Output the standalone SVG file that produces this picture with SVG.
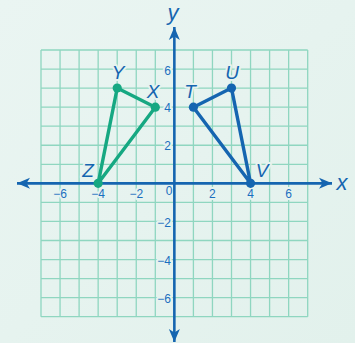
<svg xmlns="http://www.w3.org/2000/svg" width="355" height="343" viewBox="0 0 355 343">
<defs>
<linearGradient id="bg" x1="0" y1="0" x2="1" y2="1">
<stop offset="0" stop-color="#eaf5f2"/>
<stop offset="1" stop-color="#e2f1ec"/>
</linearGradient>
<marker id="ah" viewBox="-13 -6 14 12" refX="0" refY="0" markerWidth="14" markerHeight="12" markerUnits="userSpaceOnUse" orient="auto-start-reverse">
<path d="M0,0 L-13,-5.5 L-9.5,0 L-13,5.5 Z" fill="#1565b0"/>
</marker>
<style>
.grid{stroke:#8fd6c0;stroke-width:1.3;fill:none}
.axis{stroke:#1565b0;stroke-width:2.6;fill:none}
.tick{font-family:"Liberation Sans",Arial,sans-serif;font-size:12px;fill:#1b6fbf;stroke:#e6f3ef;stroke-width:4;paint-order:stroke;stroke-linejoin:round}
.lbl{font-family:"Liberation Sans",Arial,sans-serif;font-style:italic;font-size:19px;fill:#1565b0;text-anchor:middle;stroke:#e6f3ef;stroke-width:4;paint-order:stroke;stroke-linejoin:round}
.axl{font-family:"Liberation Sans",Arial,sans-serif;font-style:italic;font-size:22px;fill:#1565b0;text-anchor:middle}
.g{stroke:#16a882;stroke-width:3.4;fill:none;stroke-linejoin:round}
.b{stroke:#1565b0;stroke-width:3.4;fill:none;stroke-linejoin:round}
.gd{fill:#16a882}
.bd{fill:#1565b0}
</style>
</defs>
<rect width="355" height="343" fill="url(#bg)"/>
<g id="grid" class="grid">
<path d="M41,50V316.7 M60.05,50V316.7 M79.1,50V316.7 M98.15,50V316.7 M117.2,50V316.7 M136.25,50V316.7 M155.3,50V316.7 M193.4,50V316.7 M212.45,50V316.7 M231.5,50V316.7 M250.55,50V316.7 M269.6,50V316.7 M288.65,50V316.7 M307.7,50V316.7"/>
<path d="M41,50H307.7 M41,69.05H307.7 M41,88.1H307.7 M41,107.15H307.7 M41,126.2H307.7 M41,145.25H307.7 M41,164.3H307.7 M41,202.4H307.7 M41,221.45H307.7 M41,240.5H307.7 M41,259.55H307.7 M41,278.6H307.7 M41,297.65H307.7 M41,316.7H307.7"/>
</g>
<g id="ticks">
<text class="tick" x="60.05" y="197.5" text-anchor="middle">−6</text>
<text class="tick" x="98.15" y="197.5" text-anchor="middle">−4</text>
<text class="tick" x="136.25" y="197.5" text-anchor="middle">−2</text>
<text class="tick" x="212.45" y="197.5" text-anchor="middle">2</text>
<text class="tick" x="250.55" y="197.5" text-anchor="middle">4</text>
<text class="tick" x="288.65" y="197.5" text-anchor="middle">6</text>
<text class="tick" x="169" y="195" text-anchor="middle">0</text>
<text class="tick" x="171" y="75" text-anchor="end">6</text>
<text class="tick" x="171" y="111.5" text-anchor="end">4</text>
<text class="tick" x="171" y="149.5" text-anchor="end">2</text>
<text class="tick" x="171" y="226.5" text-anchor="end">−2</text>
<text class="tick" x="171" y="264.5" text-anchor="end">−4</text>
<text class="tick" x="171" y="302.5" text-anchor="end">−6</text>
</g>
<g id="axes">
<line class="axis" x1="17" y1="183.35" x2="332" y2="183.35" marker-start="url(#ah)" marker-end="url(#ah)"/>
<line class="axis" x1="174.35" y1="342" x2="174.35" y2="27" marker-start="url(#ah)" marker-end="url(#ah)"/>
<text class="axl" x="342" y="190">x</text>
<text class="axl" x="173" y="20">y</text>
</g>
<g id="connectors">
<polygon class="g" points="117.2,88.1 155.3,107.15 98.15,183.35"/>
<polygon class="b" points="193.4,107.15 231.5,88.1 250.55,183.35"/>
</g>
<g id="Y"><circle class="gd" cx="117.2" cy="88.1" r="4.6"/><text class="lbl" x="118" y="79">Y</text></g>
<g id="X"><circle class="gd" cx="155.3" cy="107.15" r="4.6"/><text class="lbl" x="153" y="98">X</text></g>
<g id="Z"><circle class="gd" cx="98.15" cy="183.35" r="4.6"/><text class="lbl" x="88" y="177">Z</text></g>
<g id="T"><circle class="bd" cx="193.4" cy="107.15" r="4.6"/><text class="lbl" x="190" y="98">T</text></g>
<g id="U"><circle class="bd" cx="231.5" cy="88.1" r="4.6"/><text class="lbl" x="232" y="79">U</text></g>
<g id="V"><circle class="bd" cx="250.55" cy="183.35" r="4.6"/><text class="lbl" x="262" y="177">V</text></g>
</svg>
